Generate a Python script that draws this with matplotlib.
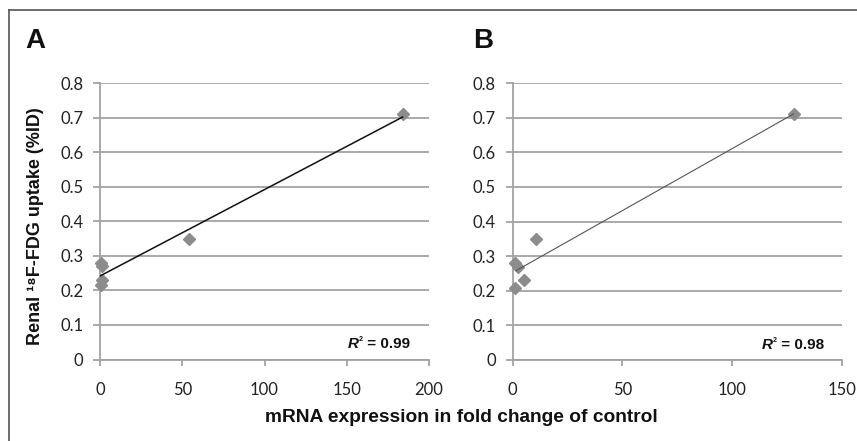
import matplotlib
matplotlib.use("Agg")
import matplotlib.pyplot as plt
from matplotlib.lines import Line2D
import numpy as np

# ---- data ----
a_x = [0.5, 1.0, 1.0, 0.5, 54, 184]
a_y = [0.28, 0.27, 0.23, 0.215, 0.35, 0.71]
a_fit = (0.0025, 0.2416)          # slope, intercept of drawn trend line
a_fit_range = [0, 184]
a_r2 = "0.99"

b_x = [1.0, 2.5, 5.0, 1.2, 10.5, 128.3]
b_y = [0.28, 0.27, 0.23, 0.207, 0.35, 0.71]
b_fit = (0.003577, 0.2526)
b_fit_range = [1.5, 128]
b_r2 = "0.98"

y_ticks = [0, 0.1, 0.2, 0.3, 0.4, 0.5, 0.6, 0.7, 0.8]
a_xticks = [0, 50, 100, 150, 200]
b_xticks = [0, 50, 100, 150]

GRID = "#a3a3a3"
MARK = "#8c8c8c"
TXT = "#111111"

fig = plt.figure(figsize=(8.57, 4.41), dpi=100)

# outer frame (top and left edges visible)
fig.add_artist(Line2D([9/857, 9/857], [0, 1 - 10/441], transform=fig.transFigure,
                      color="#555555", lw=1.2))
fig.add_artist(Line2D([9/857, 1], [1 - 10/441, 1 - 10/441], transform=fig.transFigure,
                      color="#555555", lw=1.2))

axA = fig.add_axes([100/857, 81.5/441, 329/857, 276.5/441])
axB = fig.add_axes([512.7/857, 81/441, 329/857, 277/441])

def style(ax, xticks, xmax):
    ax.set_xlim(0, xmax)
    ax.set_ylim(0, 0.8)
    ax.set_yticks(y_ticks)
    ax.set_yticklabels(["0" if v == 0 else f"{v:.1f}" for v in y_ticks])
    ax.set_xticks(xticks)
    ax.set_xticklabels([str(v) for v in xticks])
    for s in ["top", "right"]:
        ax.spines[s].set_visible(False)
    for s in ["left", "bottom"]:
        ax.spines[s].set_color(GRID)
        ax.spines[s].set_linewidth(1.3)
    ax.yaxis.grid(True, color=GRID, lw=1.3)
    ax.set_axisbelow(True)
    ax.tick_params(axis="y", length=5, width=1.3, color=GRID, pad=7, labelsize=12,
                   labelcolor="#222222")
    ax.tick_params(axis="x", length=4, width=1.3, color=GRID, pad=12, labelsize=12,
                   labelcolor="#222222")
    for lab in ax.get_xticklabels() + ax.get_yticklabels():
        lab.set_fontfamily("Lato")
    for sp in ax.spines.values():
        sp.set_clip_on(False)

style(axA, a_xticks, 200)
style(axB, b_xticks, 150)

# scatter points
axA.plot(a_x, a_y, linestyle="none", marker="D", ms=6.5, color=MARK, mec=MARK,
         zorder=3, clip_on=False)
axB.plot(b_x, b_y, linestyle="none", marker="D", ms=6.5, color=MARK, mec=MARK,
         zorder=3, clip_on=False)

# trend lines
xa = np.array(a_fit_range, dtype=float)
axA.plot(xa, a_fit[0] * xa + a_fit[1], color=TXT, lw=1.1, zorder=4)
xb = np.array(b_fit_range, dtype=float)
axB.plot(xb, b_fit[0] * xb + b_fit[1], color="#555555", lw=0.8, zorder=4)

# R^2 annotations
for ax, r2, xf, yf in [(axA, a_r2, 0.752, 0.042), (axB, b_r2, 0.756, 0.040)]:
    tR = ax.text(xf, yf, "R", transform=ax.transAxes, fontsize=11, fontweight="bold",
                 style="italic", family="Liberation Sans", ha="left", va="baseline",
                 color=TXT)
    ax.annotate("2", xy=(1, 1), xycoords=tR, xytext=(0.2, 0.5),
                textcoords="offset points", fontsize=5, fontweight="bold",
                family="Liberation Sans", ha="left", va="top", color=TXT)
    ax.annotate(" = " + r2, xy=(1, 0), xycoords=tR, xytext=(3.6, 0),
                textcoords="offset points", fontsize=11, fontweight="bold",
                family="Liberation Sans", ha="left", va="bottom", color=TXT)

# panel letters
fig.text(25/857, 1 - 48/441, "A", fontsize=20, fontweight="bold",
         family="Liberation Sans", ha="left", va="baseline", color=TXT)
fig.text(473/857, 1 - 48/441, "B", fontsize=20, fontweight="bold",
         family="Liberation Sans", ha="left", va="baseline", color=TXT)

# axis labels
fig.text(36/857, 1 - 226/441, "Renal \u00b9\u2078F-FDG uptake (%ID)", rotation=90,
         fontsize=13, fontweight="bold", family="Liberation Sans", ha="center",
         va="center", color=TXT)
fig.text(461/857, 1 - 418/441, "mRNA expression in fold change of control",
         fontsize=13.8, fontweight="bold", family="Liberation Sans", ha="center",
         va="center", color=TXT)

fig.savefig("out.png", dpi=100)
